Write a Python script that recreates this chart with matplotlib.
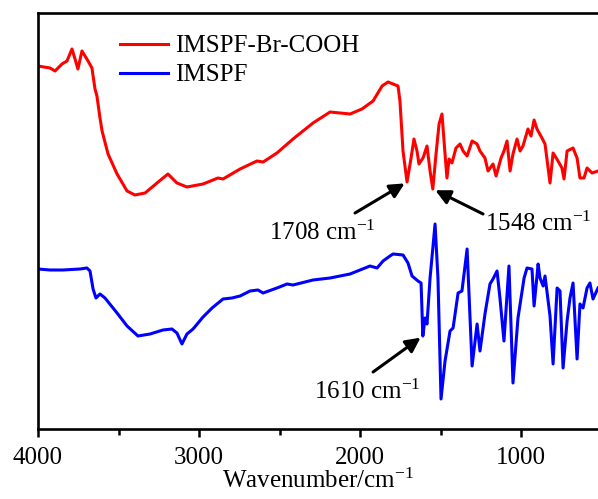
import matplotlib
matplotlib.use('Agg')
import matplotlib.pyplot as plt
from matplotlib.ticker import MultipleLocator

# FTIR spectra, transmittance in arbitrary units (curves are offset)
wn_cooh = [4000, 3925, 3894, 3851, 3820, 3789, 3770, 3752, 3727, 3708, 3689, 3665, 3646, 3634,
           3615, 3602, 3565, 3509, 3447, 3398, 3335, 3261, 3193, 3137, 3075, 2975, 2882, 2851,
           2745, 2640, 2602, 2516, 2416, 2292, 2186, 2062, 1988, 1919, 1863, 1826, 1795, 1764,
           1752, 1733, 1708, 1683, 1665, 1646, 1634, 1609, 1584, 1565, 1548, 1528, 1509, 1491,
           1472, 1460, 1447, 1429, 1404, 1379, 1360, 1335, 1304, 1273, 1255, 1224, 1205, 1174,
           1155, 1124, 1106, 1087, 1068, 1050, 1025, 1006, 988, 957, 938, 919, 901, 870, 851,
           820, 801, 770, 746, 733, 714, 677, 652, 634, 609, 590, 559, 522]
t_cooh = [363, 361, 358, 365, 368, 380, 370, 360, 378, 373, 368, 361, 340, 333,
          311, 298, 275, 255, 238, 234, 236, 246, 255, 246, 242, 245, 251, 250,
          260, 268, 267, 276, 290, 306, 317, 315, 320, 328, 343, 347, 345, 343,
          328, 278, 247, 271, 290, 278, 265, 271, 283, 258, 240, 275, 305, 315,
          275, 251, 270, 266, 281, 285, 278, 273, 288, 285, 278, 271, 258, 265,
          253, 271, 278, 288, 258, 275, 290, 278, 283, 300, 293, 309, 300, 291, 285,
          246, 276, 268, 261, 250, 278, 281, 271, 251, 251, 261, 256, 258]

wn_imspf = [4000, 3925, 3845, 3739, 3696, 3677, 3658, 3640, 3615, 3584, 3509, 3447, 3379, 3304,
            3224, 3168, 3137, 3106, 3075, 3037, 2975, 2919, 2851, 2795, 2745, 2683, 2634, 2602,
            2516, 2453, 2416, 2292, 2186, 2062, 1938, 1894, 1857, 1814, 1795, 1733, 1702, 1677,
            1640, 1621, 1615, 1610, 1596, 1584, 1565, 1534, 1516, 1497, 1472, 1441, 1422, 1391,
            1367, 1354, 1335, 1304, 1273, 1255, 1224, 1193, 1174, 1149, 1131, 1106, 1075, 1050,
            1019, 981, 963, 932, 919, 901, 894, 882, 863, 851, 820, 801, 776, 758, 739, 714,
            696, 677, 652, 634, 615, 590, 572, 553, 522]
t_imspf = [160, 159, 159, 160, 161, 158, 140, 131, 135, 131, 116, 103, 93, 95,
           99, 100, 96, 85, 95, 100, 112, 121, 130, 131, 133, 138, 139, 136,
           141, 145, 144, 149, 151, 155, 163, 161, 168, 173, 175, 174, 166, 153,
           148, 146, 118, 93, 111, 105, 151, 205, 151, 30, 68, 98, 101, 136,
           138, 155, 180, 63, 105, 78, 115, 145, 150, 158, 131, 88, 163, 46,
           111, 151, 161, 160, 123, 153, 165, 151, 143, 153, 113, 65, 141, 138, 61, 108,
           131, 146, 70, 125, 121, 141, 146, 130, 141]

# labelled bands: (wavenumber, transmittance at arrow tip, arrow tail, label centre)
peak_labels = ['1708 cm$^{-1}$', '1548 cm$^{-1}$', '1610 cm$^{-1}$']
peak_tips = [(1708, 247), (1548, 240), (1610, 93)]
peak_tails = [(2031, 216), (1236, 215), (1919, 57)]
peak_text = [(2236, 196), (894, 205), (1957, 37)]

plt.rcParams['font.family'] = ['Liberation Serif', 'DejaVu Serif']
plt.rcParams['mathtext.fontset'] = 'custom'
plt.rcParams['mathtext.rm'] = 'Liberation Serif'
plt.rcParams['mathtext.it'] = 'Liberation Serif:italic'

fig = plt.figure(figsize=(5.98, 4.99), dpi=100)
ax = fig.add_axes([38 / 598, 70 / 499, 1 - 38 / 598, 416 / 499])

ax.plot(wn_cooh, t_cooh, color='#ff0000', lw=2.2, label='IMSPF-Br-COOH')
ax.plot(wn_imspf, t_imspf, color='#0000ff', lw=2.2, label='IMSPF')

for label, tip, tail, pos in zip(peak_labels, peak_tips, peak_tails, peak_text):
    ax.annotate('', xy=tip, xytext=tail,
                arrowprops=dict(arrowstyle='-|>', color='black', lw=2.2, mutation_scale=22,
                                shrinkA=0, shrinkB=2))
    ax.text(pos[0], pos[1], label, fontsize=18, ha='center', va='center')

ax.set_xlim(4000, 522)
ax.set_ylim(0, 416)
ax.xaxis.set_major_locator(MultipleLocator(1000))
ax.xaxis.set_minor_locator(MultipleLocator(500))
ax.tick_params(axis='x', which='major', direction='out', length=6, width=1.8, labelsize=18, pad=7)
ax.tick_params(axis='x', which='minor', direction='out', length=4, width=1.8)
ax.set_yticks([])
for side in ['left', 'bottom', 'top']:
    ax.spines[side].set_linewidth(1.9)
ax.spines['right'].set_visible(False)
ax.set_xlabel('Wavenumber/cm$^{-1}$', fontsize=18, labelpad=0)

ax.legend(loc='upper left', bbox_to_anchor=(120 / 598, 1 - 35 / 499), bbox_transform=fig.transFigure,
          frameon=False, fontsize=18, handlelength=1.9, handletextpad=0.3, labelspacing=0.25,
          borderpad=0, borderaxespad=0)

fig.savefig('out.png', dpi=100)
